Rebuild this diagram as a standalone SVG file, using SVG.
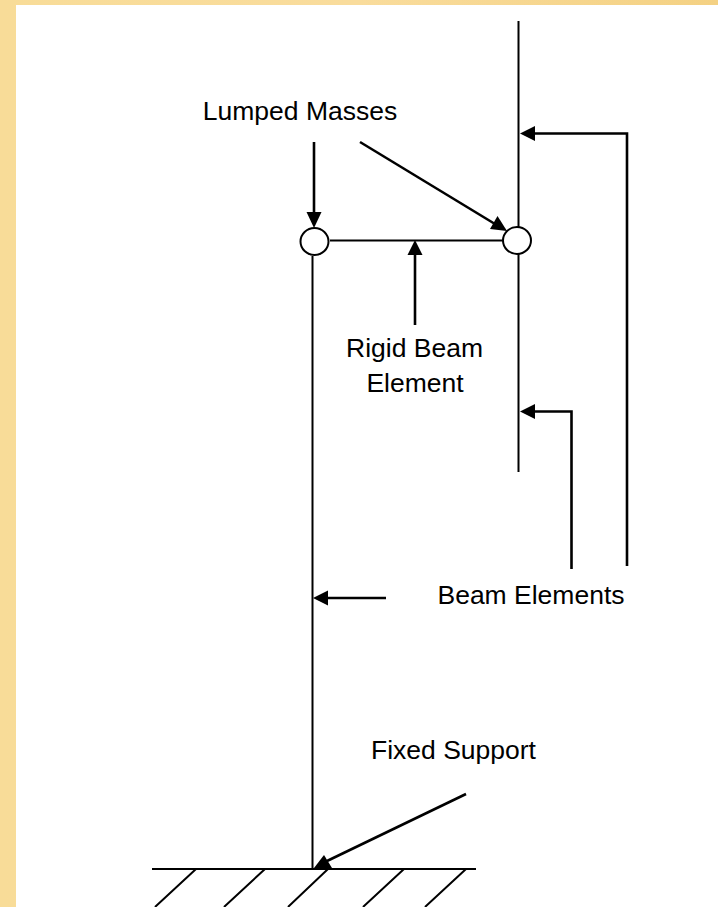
<svg xmlns="http://www.w3.org/2000/svg" width="718" height="907" viewBox="0 0 718 907">
<style>
.m{fill:none;stroke:#000;stroke-width:2}
.a{fill:none;stroke:#000;stroke-width:2.6}
.h{fill:#000;stroke:none}
.n{fill:#fff;stroke:#000;stroke-width:2}
text{font-family:"Liberation Sans",Arial,sans-serif;font-size:26.500px;fill:#000;text-anchor:middle}
</style>
<defs>
<linearGradient id="bg" x1="0" y1="0" x2="1" y2="0"><stop offset="0" stop-color="#f8dc98"/><stop offset="0.5" stop-color="#f9dc9c"/><stop offset="1" stop-color="#f4d183"/></linearGradient>
</defs>
<rect width="718" height="907" fill="url(#bg)"/>
<rect x="16" y="5" width="702" height="902" fill="#fff"/>
<g id="connectors">
<path class="m" d="M518.500 21V472M312.500 256V868M330 240.500H503"/>
<path class="m" d="M152 869H476M196 869L155 907M265 869L224 907M328 869L288 907M404 869L363 907M466 869L425 907"/>
<path class="a" d="M314 142V212"/><polygon class="h" points="314,228 306.500,212 321.500,212"/>
<path class="a" d="M360 142L495 224"/><polygon class="h" points="507,231 490,229 497.500,216"/>
<path class="a" d="M415 325V255"/><polygon class="h" points="415,240 407.500,255 422.500,255"/>
<path class="a" d="M627 566V133.500H534"/><polygon class="h" points="520,133.500 535,126 535,141"/>
<path class="a" d="M571.500 569V411.500H534"/><polygon class="h" points="520,411.500 535,404 535,419"/>
<path class="a" d="M386 598H328"/><polygon class="h" points="313,598 328,590.500 328,605.500"/>
<path class="a" d="M466 794L327 861"/><polygon class="h" points="314,868 324,855 332,868"/>
</g>
<g id="mass-left"><ellipse class="n" cx="314.500" cy="241.500" rx="14" ry="13.500"/></g>
<g id="mass-right"><ellipse class="n" cx="517" cy="240.500" rx="14" ry="13.500"/></g>
<g id="label-lumped"><text x="300" y="120">Lumped Masses</text></g>
<g id="label-rigid"><text x="414.500" y="357">Rigid Beam</text><text x="415" y="391.500">Element</text></g>
<g id="label-beam"><text x="531" y="604">Beam Elements</text></g>
<g id="label-fixed"><text x="453.500" y="759">Fixed Support</text></g>
</svg>
